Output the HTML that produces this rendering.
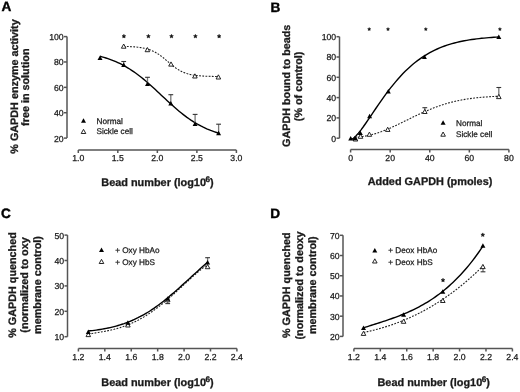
<!DOCTYPE html>
<html><head><meta charset="utf-8"><style>
html,body{margin:0;padding:0;background:#fff;width:520px;height:392px;overflow:hidden}
svg{display:block;will-change:transform}
text{font-family:"Liberation Sans", sans-serif;text-rendering:geometricPrecision}
</style></head><body>
<svg width="520" height="392" viewBox="0 0 520 392">
<text x="1.5" y="11.4" font-size="13.6" font-weight="bold" fill="#000" stroke="#000" stroke-width="0.4">A</text>
<text transform="translate(17.5,86.5) rotate(-90)" font-size="10.8" font-weight="bold" text-anchor="middle" fill="#1a1a1a" stroke="#1a1a1a" stroke-width="0.3">% GAPDH enzyme activity</text>
<text transform="translate(29.0,87.2) rotate(-90)" font-size="10.8" font-weight="bold" text-anchor="middle" fill="#1a1a1a" stroke="#1a1a1a" stroke-width="0.3">free in solution</text>
<line x1="67" y1="36.6" x2="67" y2="138.1" stroke="#555" stroke-width="1.5"/>
<line x1="64" y1="36.6" x2="67" y2="36.6" stroke="#555" stroke-width="1.5"/>
<text x="63.7" y="40.0" font-size="8.7" text-anchor="end" fill="#1a1a1a" stroke="#1a1a1a" stroke-width="0.25">100</text>
<line x1="64" y1="61.97" x2="67" y2="61.97" stroke="#555" stroke-width="1.5"/>
<text x="63.7" y="65.4" font-size="8.7" text-anchor="end" fill="#1a1a1a" stroke="#1a1a1a" stroke-width="0.25">80</text>
<line x1="64" y1="87.35" x2="67" y2="87.35" stroke="#555" stroke-width="1.5"/>
<text x="63.7" y="90.8" font-size="8.7" text-anchor="end" fill="#1a1a1a" stroke="#1a1a1a" stroke-width="0.25">60</text>
<line x1="64" y1="112.72" x2="67" y2="112.72" stroke="#555" stroke-width="1.5"/>
<text x="63.7" y="116.1" font-size="8.7" text-anchor="end" fill="#1a1a1a" stroke="#1a1a1a" stroke-width="0.25">40</text>
<line x1="64" y1="138.1" x2="67" y2="138.1" stroke="#555" stroke-width="1.5"/>
<text x="63.7" y="141.5" font-size="8.7" text-anchor="end" fill="#1a1a1a" stroke="#1a1a1a" stroke-width="0.25">20</text>
<line x1="78.3" y1="150" x2="236.4" y2="150" stroke="#555" stroke-width="1.5"/>
<line x1="78.3" y1="150" x2="78.3" y2="153" stroke="#555" stroke-width="1.5"/>
<text x="78.3" y="161.0" font-size="8.7" text-anchor="middle" fill="#1a1a1a" stroke="#1a1a1a" stroke-width="0.25">1.0</text>
<line x1="117.82" y1="150" x2="117.82" y2="153" stroke="#555" stroke-width="1.5"/>
<text x="117.8" y="161.0" font-size="8.7" text-anchor="middle" fill="#1a1a1a" stroke="#1a1a1a" stroke-width="0.25">1.5</text>
<line x1="157.35" y1="150" x2="157.35" y2="153" stroke="#555" stroke-width="1.5"/>
<text x="157.3" y="161.0" font-size="8.7" text-anchor="middle" fill="#1a1a1a" stroke="#1a1a1a" stroke-width="0.25">2.0</text>
<line x1="196.88" y1="150" x2="196.88" y2="153" stroke="#555" stroke-width="1.5"/>
<text x="196.9" y="161.0" font-size="8.7" text-anchor="middle" fill="#1a1a1a" stroke="#1a1a1a" stroke-width="0.25">2.5</text>
<line x1="236.4" y1="150" x2="236.4" y2="153" stroke="#555" stroke-width="1.5"/>
<text x="236.4" y="161.0" font-size="8.7" text-anchor="middle" fill="#1a1a1a" stroke="#1a1a1a" stroke-width="0.25">3.0</text>
<text x="101.3" y="186.3" font-size="10.9" font-weight="bold" text-anchor="start" fill="#1a1a1a" stroke="#1a1a1a" stroke-width="0.3">Bead number (log10<tspan font-size="8.2" dx="-0.5" dy="-4.0">6</tspan><tspan dy="4.0">)</tspan></text>
<path d="M100.00,56.28 L101.98,56.81 L103.95,57.37 L105.93,57.98 L107.91,58.63 L109.88,59.32 L111.86,60.05 L113.84,60.83 L115.81,61.67 L117.79,62.55 L119.77,63.49 L121.74,64.48 L123.72,65.53 L125.70,66.63 L127.67,67.79 L129.65,69.01 L131.63,70.29 L133.60,71.62 L135.58,73.01 L137.56,74.46 L139.53,75.96 L141.51,77.52 L143.49,79.12 L145.46,80.77 L147.44,82.47 L149.42,84.20 L151.39,85.97 L153.37,87.77 L155.35,89.59 L157.32,91.43 L159.30,93.28 L161.28,95.14 L163.25,97.00 L165.23,98.85 L167.21,100.70 L169.18,102.52 L171.16,104.32 L173.14,106.10 L175.11,107.84 L177.09,109.54 L179.07,111.20 L181.04,112.81 L183.02,114.37 L185.00,115.88 L186.97,117.34 L188.95,118.74 L190.93,120.09 L192.90,121.37 L194.88,122.60 L196.86,123.77 L198.83,124.88 L200.81,125.94 L202.79,126.94 L204.76,127.88 L206.74,128.78 L208.72,129.62 L210.69,130.41 L212.67,131.15 L214.65,131.85 L216.62,132.50 L218.60,133.12" fill="none" stroke="#000" stroke-width="1.4"/>
<line x1="123.70" y1="65.00" x2="123.70" y2="61.50" stroke="#777" stroke-width="1.3"/>
<line x1="121.30" y1="61.50" x2="126.10" y2="61.50" stroke="#333" stroke-width="1.1"/>
<line x1="147.50" y1="84.10" x2="147.50" y2="77.30" stroke="#777" stroke-width="1.3"/>
<line x1="145.10" y1="77.30" x2="149.90" y2="77.30" stroke="#333" stroke-width="1.1"/>
<line x1="170.80" y1="103.60" x2="170.80" y2="94.70" stroke="#777" stroke-width="1.3"/>
<line x1="168.40" y1="94.70" x2="173.20" y2="94.70" stroke="#333" stroke-width="1.1"/>
<line x1="195.10" y1="124.00" x2="195.10" y2="114.40" stroke="#777" stroke-width="1.3"/>
<line x1="192.70" y1="114.40" x2="197.50" y2="114.40" stroke="#333" stroke-width="1.1"/>
<line x1="218.60" y1="133.20" x2="218.60" y2="124.20" stroke="#777" stroke-width="1.3"/>
<line x1="216.20" y1="124.20" x2="221.00" y2="124.20" stroke="#333" stroke-width="1.1"/>
<polygon points="97.50,60.02 102.50,60.02 100.00,55.52" fill="#000"/>
<polygon points="121.20,67.03 126.20,67.03 123.70,62.52" fill="#000"/>
<polygon points="145.00,86.12 150.00,86.12 147.50,81.62" fill="#000"/>
<polygon points="168.30,105.62 173.30,105.62 170.80,101.12" fill="#000"/>
<polygon points="192.60,126.03 197.60,126.03 195.10,121.53" fill="#000"/>
<polygon points="216.10,135.22 221.10,135.22 218.60,130.72" fill="#000"/>
<path d="M123.70,46.41 L125.28,46.45 L126.86,46.50 L128.44,46.56 L130.01,46.62 L131.59,46.71 L133.17,46.80 L134.75,46.92 L136.33,47.06 L137.91,47.22 L139.48,47.41 L141.06,47.64 L142.64,47.90 L144.22,48.21 L145.80,48.58 L147.38,49.00 L148.95,49.49 L150.53,50.05 L152.11,50.69 L153.69,51.42 L155.27,52.24 L156.84,53.15 L158.42,54.16 L160.00,55.25 L161.58,56.43 L163.16,57.67 L164.74,58.97 L166.31,60.31 L167.89,61.67 L169.47,63.02 L171.05,64.34 L172.63,65.62 L174.21,66.84 L175.78,67.99 L177.36,69.05 L178.94,70.01 L180.52,70.89 L182.10,71.67 L183.68,72.37 L185.25,72.98 L186.83,73.51 L188.41,73.97 L189.99,74.37 L191.57,74.71 L193.15,75.00 L194.73,75.25 L196.30,75.46 L197.88,75.64 L199.46,75.80 L201.04,75.92 L202.62,76.03 L204.19,76.12 L205.77,76.20 L207.35,76.26 L208.93,76.32 L210.51,76.36 L212.09,76.40 L213.67,76.43 L215.24,76.46 L216.82,76.48 L218.40,76.50" fill="none" stroke="#222" stroke-width="1.1" stroke-dasharray="1.8,1.4"/>
<polygon points="121.40,48.21 126.00,48.21 123.70,44.02" fill="#fff" stroke="#1a1a1a" stroke-width="0.95" stroke-linejoin="round"/>
<polygon points="145.10,51.71 149.70,51.71 147.40,47.52" fill="#fff" stroke="#1a1a1a" stroke-width="0.95" stroke-linejoin="round"/>
<polygon points="168.70,66.11 173.30,66.11 171.00,61.92" fill="#fff" stroke="#1a1a1a" stroke-width="0.95" stroke-linejoin="round"/>
<polygon points="192.60,78.01 197.20,78.01 194.90,73.82" fill="#fff" stroke="#1a1a1a" stroke-width="0.95" stroke-linejoin="round"/>
<polygon points="216.10,79.01 220.70,79.01 218.40,74.82" fill="#fff" stroke="#1a1a1a" stroke-width="0.95" stroke-linejoin="round"/>
<polygon points="123.90,34.30 124.46,35.53 125.80,35.68 124.80,36.59 125.08,37.92 123.90,37.25 122.72,37.92 123.00,36.59 122.00,35.68 123.34,35.53" fill="#111" stroke="#111" stroke-width="0.5"/>
<polygon points="148.40,34.30 148.96,35.53 150.30,35.68 149.30,36.59 149.58,37.92 148.40,37.25 147.22,37.92 147.50,36.59 146.50,35.68 147.84,35.53" fill="#111" stroke="#111" stroke-width="0.5"/>
<polygon points="171.50,34.30 172.06,35.53 173.40,35.68 172.40,36.59 172.68,37.92 171.50,37.25 170.32,37.92 170.60,36.59 169.60,35.68 170.94,35.53" fill="#111" stroke="#111" stroke-width="0.5"/>
<polygon points="195.40,34.30 195.96,35.53 197.30,35.68 196.30,36.59 196.58,37.92 195.40,37.25 194.22,37.92 194.50,36.59 193.50,35.68 194.84,35.53" fill="#111" stroke="#111" stroke-width="0.5"/>
<polygon points="219.10,34.30 219.66,35.53 221.00,35.68 220.00,36.59 220.28,37.92 219.10,37.25 217.92,37.92 218.20,36.59 217.20,35.68 218.54,35.53" fill="#111" stroke="#111" stroke-width="0.5"/>
<polygon points="81.00,122.83 86.00,122.83 83.50,118.33" fill="#000"/>
<polygon points="81.20,133.51 85.80,133.51 83.50,129.32" fill="#fff" stroke="#1a1a1a" stroke-width="0.95" stroke-linejoin="round"/>
<text x="96.5" y="123.7" font-size="8.2" fill="#1a1a1a" stroke="#1a1a1a" stroke-width="0.25">Normal</text>
<text x="96.5" y="134.4" font-size="8.2" fill="#1a1a1a" stroke="#1a1a1a" stroke-width="0.25">Sickle cell</text>
<text x="270.5" y="11.5" font-size="13.6" font-weight="bold" fill="#000" stroke="#000" stroke-width="0.4">B</text>
<text transform="translate(289.9,85.8) rotate(-90)" font-size="10.8" font-weight="bold" text-anchor="middle" fill="#1a1a1a" stroke="#1a1a1a" stroke-width="0.3">GAPDH bound to beads</text>
<text transform="translate(302.3,86.4) rotate(-90)" font-size="10.8" font-weight="bold" text-anchor="middle" fill="#1a1a1a" stroke="#1a1a1a" stroke-width="0.3">(% of control)</text>
<line x1="339.5" y1="36.7" x2="339.5" y2="138.2" stroke="#555" stroke-width="1.5"/>
<line x1="336.5" y1="36.7" x2="339.5" y2="36.7" stroke="#555" stroke-width="1.5"/>
<text x="336.2" y="40.1" font-size="8.7" text-anchor="end" fill="#1a1a1a" stroke="#1a1a1a" stroke-width="0.25">100</text>
<line x1="336.5" y1="57.0" x2="339.5" y2="57.0" stroke="#555" stroke-width="1.5"/>
<text x="336.2" y="60.4" font-size="8.7" text-anchor="end" fill="#1a1a1a" stroke="#1a1a1a" stroke-width="0.25">80</text>
<line x1="336.5" y1="77.3" x2="339.5" y2="77.3" stroke="#555" stroke-width="1.5"/>
<text x="336.2" y="80.7" font-size="8.7" text-anchor="end" fill="#1a1a1a" stroke="#1a1a1a" stroke-width="0.25">60</text>
<line x1="336.5" y1="97.6" x2="339.5" y2="97.6" stroke="#555" stroke-width="1.5"/>
<text x="336.2" y="101.0" font-size="8.7" text-anchor="end" fill="#1a1a1a" stroke="#1a1a1a" stroke-width="0.25">40</text>
<line x1="336.5" y1="117.9" x2="339.5" y2="117.9" stroke="#555" stroke-width="1.5"/>
<text x="336.2" y="121.3" font-size="8.7" text-anchor="end" fill="#1a1a1a" stroke="#1a1a1a" stroke-width="0.25">20</text>
<line x1="336.5" y1="138.2" x2="339.5" y2="138.2" stroke="#555" stroke-width="1.5"/>
<text x="336.2" y="141.6" font-size="8.7" text-anchor="end" fill="#1a1a1a" stroke="#1a1a1a" stroke-width="0.25">0</text>
<line x1="350.6" y1="149.5" x2="508.9" y2="149.5" stroke="#555" stroke-width="1.5"/>
<line x1="350.6" y1="149.5" x2="350.6" y2="152.5" stroke="#555" stroke-width="1.5"/>
<text x="350.6" y="160.9" font-size="8.7" text-anchor="middle" fill="#1a1a1a" stroke="#1a1a1a" stroke-width="0.25">0</text>
<line x1="390.18" y1="149.5" x2="390.18" y2="152.5" stroke="#555" stroke-width="1.5"/>
<text x="390.2" y="160.9" font-size="8.7" text-anchor="middle" fill="#1a1a1a" stroke="#1a1a1a" stroke-width="0.25">20</text>
<line x1="429.75" y1="149.5" x2="429.75" y2="152.5" stroke="#555" stroke-width="1.5"/>
<text x="429.8" y="160.9" font-size="8.7" text-anchor="middle" fill="#1a1a1a" stroke="#1a1a1a" stroke-width="0.25">40</text>
<line x1="469.33" y1="149.5" x2="469.33" y2="152.5" stroke="#555" stroke-width="1.5"/>
<text x="469.3" y="160.9" font-size="8.7" text-anchor="middle" fill="#1a1a1a" stroke="#1a1a1a" stroke-width="0.25">60</text>
<line x1="508.9" y1="149.5" x2="508.9" y2="152.5" stroke="#555" stroke-width="1.5"/>
<text x="508.9" y="160.9" font-size="8.7" text-anchor="middle" fill="#1a1a1a" stroke="#1a1a1a" stroke-width="0.25">80</text>
<text x="430" y="185.3" font-size="10.9" font-weight="bold" text-anchor="middle" fill="#1a1a1a" stroke="#1a1a1a" stroke-width="0.3">Added GAPDH (pmoles)</text>
<path d="M351.00,139.71 L353.46,138.28 L355.93,135.97 L358.39,133.17 L360.85,130.07 L363.32,126.74 L365.78,123.26 L368.24,119.69 L370.71,116.06 L373.17,112.40 L375.63,108.76 L378.10,105.15 L380.56,101.59 L383.02,98.10 L385.49,94.69 L387.95,91.38 L390.41,88.17 L392.88,85.07 L395.34,82.08 L397.80,79.22 L400.27,76.47 L402.73,73.85 L405.19,71.34 L407.66,68.96 L410.12,66.70 L412.58,64.56 L415.05,62.54 L417.51,60.63 L419.97,58.83 L422.44,57.14 L424.90,55.55 L427.36,54.05 L429.83,52.66 L432.29,51.35 L434.75,50.13 L437.22,48.99 L439.68,47.93 L442.14,46.95 L444.61,46.03 L447.07,45.18 L449.53,44.40 L452.00,43.67 L454.46,42.99 L456.92,42.37 L459.39,41.80 L461.85,41.27 L464.31,40.78 L466.78,40.33 L469.24,39.92 L471.70,39.54 L474.17,39.19 L476.63,38.88 L479.09,38.59 L481.56,38.32 L484.02,38.08 L486.48,37.86 L488.95,37.65 L491.41,37.47 L493.87,37.30 L496.34,37.15 L498.80,37.01" fill="none" stroke="#000" stroke-width="1.4"/>
<path d="M355.50,137.15 L357.88,137.00 L360.26,136.77 L362.63,136.47 L365.01,136.10 L367.39,135.65 L369.77,135.13 L372.15,134.54 L374.53,133.88 L376.90,133.16 L379.28,132.37 L381.66,131.52 L384.04,130.61 L386.42,129.66 L388.80,128.66 L391.18,127.62 L393.55,126.54 L395.93,125.44 L398.31,124.31 L400.69,123.16 L403.07,121.99 L405.44,120.82 L407.82,119.65 L410.20,118.47 L412.58,117.31 L414.96,116.15 L417.34,115.02 L419.71,113.90 L422.09,112.81 L424.47,111.74 L426.85,110.70 L429.23,109.70 L431.61,108.73 L433.99,107.80 L436.36,106.91 L438.74,106.06 L441.12,105.25 L443.50,104.48 L445.88,103.76 L448.25,103.07 L450.63,102.42 L453.01,101.82 L455.39,101.26 L457.77,100.73 L460.15,100.24 L462.52,99.79 L464.90,99.38 L467.28,98.99 L469.66,98.64 L472.04,98.32 L474.42,98.03 L476.80,97.76 L479.17,97.52 L481.55,97.30 L483.93,97.11 L486.31,96.93 L488.69,96.77 L491.06,96.63 L493.44,96.50 L495.82,96.39 L498.20,96.29" fill="none" stroke="#222" stroke-width="1.1" stroke-dasharray="1.8,1.4"/>
<line x1="424.80" y1="111.40" x2="424.80" y2="107.70" stroke="#777" stroke-width="1.3"/>
<line x1="422.40" y1="107.70" x2="427.20" y2="107.70" stroke="#333" stroke-width="1.1"/>
<line x1="498.80" y1="96.60" x2="498.80" y2="87.50" stroke="#777" stroke-width="1.3"/>
<line x1="496.40" y1="87.50" x2="501.20" y2="87.50" stroke="#333" stroke-width="1.1"/>
<polygon points="353.20,141.01 357.80,141.01 355.50,136.82" fill="#fff" stroke="#1a1a1a" stroke-width="0.95" stroke-linejoin="round"/>
<polygon points="358.20,138.31 362.80,138.31 360.50,134.12" fill="#fff" stroke="#1a1a1a" stroke-width="0.95" stroke-linejoin="round"/>
<polygon points="367.10,136.31 371.70,136.31 369.40,132.12" fill="#fff" stroke="#1a1a1a" stroke-width="0.95" stroke-linejoin="round"/>
<polygon points="385.40,131.41 390.00,131.41 387.70,127.22" fill="#fff" stroke="#1a1a1a" stroke-width="0.95" stroke-linejoin="round"/>
<polygon points="422.50,113.51 427.10,113.51 424.80,109.32" fill="#fff" stroke="#1a1a1a" stroke-width="0.95" stroke-linejoin="round"/>
<polygon points="496.50,98.61 501.10,98.61 498.80,94.42" fill="#fff" stroke="#1a1a1a" stroke-width="0.95" stroke-linejoin="round"/>
<polygon points="348.20,140.53 353.20,140.53 350.70,136.03" fill="#000"/>
<polygon points="352.50,140.22 357.50,140.22 355.00,135.72" fill="#000"/>
<polygon points="357.80,135.03 362.80,135.03 360.30,130.53" fill="#000"/>
<polygon points="367.10,118.23 372.10,118.23 369.60,113.73" fill="#000"/>
<polygon points="385.80,93.62 390.80,93.62 388.30,89.12" fill="#000"/>
<polygon points="421.90,58.92 426.90,58.92 424.40,54.42" fill="#000"/>
<polygon points="496.30,39.02 501.30,39.02 498.80,34.52" fill="#000"/>
<polygon points="369.20,27.60 369.67,28.55 370.72,28.71 369.96,29.45 370.14,30.49 369.20,30.00 368.26,30.49 368.44,29.45 367.68,28.71 368.73,28.55" fill="#111" stroke="#111" stroke-width="0.5"/>
<polygon points="388.00,27.60 388.47,28.55 389.52,28.71 388.76,29.45 388.94,30.49 388.00,30.00 387.06,30.49 387.24,29.45 386.48,28.71 387.53,28.55" fill="#111" stroke="#111" stroke-width="0.5"/>
<polygon points="425.80,27.60 426.27,28.55 427.32,28.71 426.56,29.45 426.74,30.49 425.80,30.00 424.86,30.49 425.04,29.45 424.28,28.71 425.33,28.55" fill="#111" stroke="#111" stroke-width="0.5"/>
<polygon points="499.90,27.60 500.37,28.55 501.42,28.71 500.66,29.45 500.84,30.49 499.90,30.00 498.96,30.49 499.14,29.45 498.38,28.71 499.43,28.55" fill="#111" stroke="#111" stroke-width="0.5"/>
<polygon points="440.60,124.73 445.60,124.73 443.10,120.23" fill="#000"/>
<polygon points="440.80,136.21 445.40,136.21 443.10,132.02" fill="#fff" stroke="#1a1a1a" stroke-width="0.95" stroke-linejoin="round"/>
<text x="456" y="125.6" font-size="8.2" fill="#1a1a1a" stroke="#1a1a1a" stroke-width="0.25">Normal</text>
<text x="456" y="137.1" font-size="8.2" fill="#1a1a1a" stroke="#1a1a1a" stroke-width="0.25">Sickle cell</text>
<text x="1.0" y="217.6" font-size="13.6" font-weight="bold" fill="#000" stroke="#000" stroke-width="0.4">C</text>
<text transform="translate(15.8,285.0) rotate(-90)" font-size="10.8" font-weight="bold" text-anchor="middle" fill="#1a1a1a" stroke="#1a1a1a" stroke-width="0.3">% GAPDH quenched</text>
<text transform="translate(27.7,285.0) rotate(-90)" font-size="10.8" font-weight="bold" text-anchor="middle" fill="#1a1a1a" stroke="#1a1a1a" stroke-width="0.3">(normalized to oxy</text>
<text transform="translate(40.7,285.0) rotate(-90)" font-size="10.8" font-weight="bold" text-anchor="middle" fill="#1a1a1a" stroke="#1a1a1a" stroke-width="0.3">membrane control)</text>
<line x1="67.5" y1="235.1" x2="67.5" y2="336.7" stroke="#555" stroke-width="1.5"/>
<line x1="64.5" y1="235.1" x2="67.5" y2="235.1" stroke="#555" stroke-width="1.5"/>
<text x="64.2" y="238.5" font-size="8.7" text-anchor="end" fill="#1a1a1a" stroke="#1a1a1a" stroke-width="0.25">50</text>
<line x1="64.5" y1="260.5" x2="67.5" y2="260.5" stroke="#555" stroke-width="1.5"/>
<text x="64.2" y="263.9" font-size="8.7" text-anchor="end" fill="#1a1a1a" stroke="#1a1a1a" stroke-width="0.25">40</text>
<line x1="64.5" y1="285.9" x2="67.5" y2="285.9" stroke="#555" stroke-width="1.5"/>
<text x="64.2" y="289.3" font-size="8.7" text-anchor="end" fill="#1a1a1a" stroke="#1a1a1a" stroke-width="0.25">30</text>
<line x1="64.5" y1="311.3" x2="67.5" y2="311.3" stroke="#555" stroke-width="1.5"/>
<text x="64.2" y="314.7" font-size="8.7" text-anchor="end" fill="#1a1a1a" stroke="#1a1a1a" stroke-width="0.25">20</text>
<line x1="64.5" y1="336.7" x2="67.5" y2="336.7" stroke="#555" stroke-width="1.5"/>
<text x="64.2" y="340.1" font-size="8.7" text-anchor="end" fill="#1a1a1a" stroke="#1a1a1a" stroke-width="0.25">10</text>
<line x1="78.4" y1="348.5" x2="236.92" y2="348.5" stroke="#555" stroke-width="1.5"/>
<line x1="78.4" y1="348.5" x2="78.4" y2="351.5" stroke="#555" stroke-width="1.5"/>
<text x="78.4" y="359.9" font-size="8.7" text-anchor="middle" fill="#1a1a1a" stroke="#1a1a1a" stroke-width="0.25">1.2</text>
<line x1="104.82" y1="348.5" x2="104.82" y2="351.5" stroke="#555" stroke-width="1.5"/>
<text x="104.8" y="359.9" font-size="8.7" text-anchor="middle" fill="#1a1a1a" stroke="#1a1a1a" stroke-width="0.25">1.4</text>
<line x1="131.24" y1="348.5" x2="131.24" y2="351.5" stroke="#555" stroke-width="1.5"/>
<text x="131.2" y="359.9" font-size="8.7" text-anchor="middle" fill="#1a1a1a" stroke="#1a1a1a" stroke-width="0.25">1.6</text>
<line x1="157.66" y1="348.5" x2="157.66" y2="351.5" stroke="#555" stroke-width="1.5"/>
<text x="157.7" y="359.9" font-size="8.7" text-anchor="middle" fill="#1a1a1a" stroke="#1a1a1a" stroke-width="0.25">1.8</text>
<line x1="184.08" y1="348.5" x2="184.08" y2="351.5" stroke="#555" stroke-width="1.5"/>
<text x="184.1" y="359.9" font-size="8.7" text-anchor="middle" fill="#1a1a1a" stroke="#1a1a1a" stroke-width="0.25">2.0</text>
<line x1="210.5" y1="348.5" x2="210.5" y2="351.5" stroke="#555" stroke-width="1.5"/>
<text x="210.5" y="359.9" font-size="8.7" text-anchor="middle" fill="#1a1a1a" stroke="#1a1a1a" stroke-width="0.25">2.2</text>
<line x1="236.92" y1="348.5" x2="236.92" y2="351.5" stroke="#555" stroke-width="1.5"/>
<text x="236.9" y="359.9" font-size="8.7" text-anchor="middle" fill="#1a1a1a" stroke="#1a1a1a" stroke-width="0.25">2.4</text>
<text x="101.3" y="385.8" font-size="10.9" font-weight="bold" text-anchor="start" fill="#1a1a1a" stroke="#1a1a1a" stroke-width="0.3">Bead number (log10<tspan font-size="8.2" dx="-0.5" dy="-4.0">6</tspan><tspan dy="4.0">)</tspan></text>
<path d="M88.30,334.15 L90.29,333.81 L92.27,333.48 L94.26,333.15 L96.25,332.82 L98.23,332.49 L100.22,332.15 L102.21,331.81 L104.19,331.44 L106.18,331.06 L108.17,330.66 L110.15,330.24 L112.14,329.78 L114.13,329.30 L116.11,328.77 L118.10,328.21 L120.09,327.61 L122.07,326.96 L124.06,326.27 L126.05,325.54 L128.03,324.76 L130.02,323.94 L132.01,323.08 L133.99,322.16 L135.98,321.20 L137.97,320.20 L139.95,319.14 L141.94,318.03 L143.93,316.88 L145.91,315.67 L147.90,314.41 L149.89,313.10 L151.87,311.74 L153.86,310.33 L155.85,308.87 L157.83,307.36 L159.82,305.81 L161.81,304.23 L163.79,302.60 L165.78,300.94 L167.77,299.26 L169.75,297.54 L171.74,295.79 L173.73,294.03 L175.71,292.24 L177.70,290.44 L179.69,288.62 L181.67,286.79 L183.66,284.95 L185.65,283.11 L187.63,281.28 L189.62,279.46 L191.61,277.66 L193.59,275.88 L195.58,274.13 L197.57,272.41 L199.55,270.74 L201.54,269.12 L203.53,267.55 L205.51,266.04 L207.50,264.59" fill="none" stroke="#222" stroke-width="1.1" stroke-dasharray="1.8,1.4"/>
<path d="M88.30,331.00 L90.29,330.80 L92.27,330.58 L94.26,330.35 L96.25,330.09 L98.23,329.80 L100.22,329.50 L102.21,329.17 L104.19,328.81 L106.18,328.43 L108.17,328.01 L110.15,327.57 L112.14,327.10 L114.13,326.60 L116.11,326.06 L118.10,325.49 L120.09,324.89 L122.07,324.25 L124.06,323.58 L126.05,322.86 L128.03,322.11 L130.02,321.32 L132.01,320.49 L133.99,319.61 L135.98,318.70 L137.97,317.74 L139.95,316.73 L141.94,315.68 L143.93,314.58 L145.91,313.43 L147.90,312.23 L149.89,310.98 L151.87,309.68 L153.86,308.33 L155.85,306.94 L157.83,305.50 L159.82,304.01 L161.81,302.49 L163.79,300.93 L165.78,299.34 L167.77,297.72 L169.75,296.06 L171.74,294.38 L173.73,292.67 L175.71,290.94 L177.70,289.19 L179.69,287.43 L181.67,285.64 L183.66,283.85 L185.65,282.05 L187.63,280.23 L189.62,278.42 L191.61,276.60 L193.59,274.78 L195.58,272.96 L197.57,271.15 L199.55,269.34 L201.54,267.54 L203.53,265.76 L205.51,263.99 L207.50,262.23" fill="none" stroke="#000" stroke-width="1.4"/>
<line x1="207.60" y1="262.60" x2="207.60" y2="257.70" stroke="#777" stroke-width="1.3"/>
<line x1="205.20" y1="257.70" x2="210.00" y2="257.70" stroke="#333" stroke-width="1.1"/>
<line x1="167.70" y1="300.60" x2="167.70" y2="303.60" stroke="#777" stroke-width="1.3"/>
<line x1="165.30" y1="303.60" x2="170.10" y2="303.60" stroke="#333" stroke-width="1.1"/>
<polygon points="86.00,336.61 90.60,336.61 88.30,332.42" fill="#fff" stroke="#1a1a1a" stroke-width="0.95" stroke-linejoin="round"/>
<polygon points="125.60,327.01 130.20,327.01 127.90,322.82" fill="#fff" stroke="#1a1a1a" stroke-width="0.95" stroke-linejoin="round"/>
<polygon points="165.40,301.81 170.00,301.81 167.70,297.62" fill="#fff" stroke="#1a1a1a" stroke-width="0.95" stroke-linejoin="round"/>
<polygon points="205.30,268.71 209.90,268.71 207.60,264.52" fill="#fff" stroke="#1a1a1a" stroke-width="0.95" stroke-linejoin="round"/>
<polygon points="85.80,333.92 90.80,333.92 88.30,329.42" fill="#000"/>
<polygon points="125.40,324.72 130.40,324.72 127.90,320.22" fill="#000"/>
<polygon points="165.20,300.72 170.20,300.72 167.70,296.22" fill="#000"/>
<polygon points="205.10,264.62 210.10,264.62 207.60,260.12" fill="#000"/>
<polygon points="99.00,252.03 104.00,252.03 101.50,247.53" fill="#000"/>
<polygon points="99.20,263.51 103.80,263.51 101.50,259.32" fill="#fff" stroke="#1a1a1a" stroke-width="0.95" stroke-linejoin="round"/>
<text x="115.2" y="252.9" font-size="8.2" fill="#1a1a1a" stroke="#1a1a1a" stroke-width="0.25">+ Oxy HbAo</text>
<text x="115.2" y="265.1" font-size="8.2" fill="#1a1a1a" stroke="#1a1a1a" stroke-width="0.25">+ Oxy HbS</text>
<text x="270.2" y="217.6" font-size="13.6" font-weight="bold" fill="#000" stroke="#000" stroke-width="0.4">D</text>
<text transform="translate(290.4,285.2) rotate(-90)" font-size="10.8" font-weight="bold" text-anchor="middle" fill="#1a1a1a" stroke="#1a1a1a" stroke-width="0.3">% GAPDH quenched</text>
<text transform="translate(302.7,285.5) rotate(-90)" font-size="10.8" font-weight="bold" text-anchor="middle" fill="#1a1a1a" stroke="#1a1a1a" stroke-width="0.3">(normalized to deoxy</text>
<text transform="translate(315.7,285.2) rotate(-90)" font-size="10.8" font-weight="bold" text-anchor="middle" fill="#1a1a1a" stroke="#1a1a1a" stroke-width="0.3">membrane control)</text>
<line x1="343" y1="235.3" x2="343" y2="336.4" stroke="#555" stroke-width="1.5"/>
<line x1="340" y1="235.3" x2="343" y2="235.3" stroke="#555" stroke-width="1.5"/>
<text x="339.7" y="238.7" font-size="8.7" text-anchor="end" fill="#1a1a1a" stroke="#1a1a1a" stroke-width="0.25">70</text>
<line x1="340" y1="255.52" x2="343" y2="255.52" stroke="#555" stroke-width="1.5"/>
<text x="339.7" y="258.9" font-size="8.7" text-anchor="end" fill="#1a1a1a" stroke="#1a1a1a" stroke-width="0.25">60</text>
<line x1="340" y1="275.74" x2="343" y2="275.74" stroke="#555" stroke-width="1.5"/>
<text x="339.7" y="279.1" font-size="8.7" text-anchor="end" fill="#1a1a1a" stroke="#1a1a1a" stroke-width="0.25">50</text>
<line x1="340" y1="295.96" x2="343" y2="295.96" stroke="#555" stroke-width="1.5"/>
<text x="339.7" y="299.4" font-size="8.7" text-anchor="end" fill="#1a1a1a" stroke="#1a1a1a" stroke-width="0.25">40</text>
<line x1="340" y1="316.18" x2="343" y2="316.18" stroke="#555" stroke-width="1.5"/>
<text x="339.7" y="319.6" font-size="8.7" text-anchor="end" fill="#1a1a1a" stroke="#1a1a1a" stroke-width="0.25">30</text>
<line x1="340" y1="336.4" x2="343" y2="336.4" stroke="#555" stroke-width="1.5"/>
<text x="339.7" y="339.8" font-size="8.7" text-anchor="end" fill="#1a1a1a" stroke="#1a1a1a" stroke-width="0.25">20</text>
<line x1="353.9" y1="348.5" x2="512.4" y2="348.5" stroke="#555" stroke-width="1.5"/>
<line x1="353.9" y1="348.5" x2="353.9" y2="351.5" stroke="#555" stroke-width="1.5"/>
<text x="353.9" y="359.9" font-size="8.7" text-anchor="middle" fill="#1a1a1a" stroke="#1a1a1a" stroke-width="0.25">1.2</text>
<line x1="380.32" y1="348.5" x2="380.32" y2="351.5" stroke="#555" stroke-width="1.5"/>
<text x="380.3" y="359.9" font-size="8.7" text-anchor="middle" fill="#1a1a1a" stroke="#1a1a1a" stroke-width="0.25">1.4</text>
<line x1="406.73" y1="348.5" x2="406.73" y2="351.5" stroke="#555" stroke-width="1.5"/>
<text x="406.7" y="359.9" font-size="8.7" text-anchor="middle" fill="#1a1a1a" stroke="#1a1a1a" stroke-width="0.25">1.6</text>
<line x1="433.15" y1="348.5" x2="433.15" y2="351.5" stroke="#555" stroke-width="1.5"/>
<text x="433.1" y="359.9" font-size="8.7" text-anchor="middle" fill="#1a1a1a" stroke="#1a1a1a" stroke-width="0.25">1.8</text>
<line x1="459.56" y1="348.5" x2="459.56" y2="351.5" stroke="#555" stroke-width="1.5"/>
<text x="459.6" y="359.9" font-size="8.7" text-anchor="middle" fill="#1a1a1a" stroke="#1a1a1a" stroke-width="0.25">2.0</text>
<line x1="485.98" y1="348.5" x2="485.98" y2="351.5" stroke="#555" stroke-width="1.5"/>
<text x="486.0" y="359.9" font-size="8.7" text-anchor="middle" fill="#1a1a1a" stroke="#1a1a1a" stroke-width="0.25">2.2</text>
<line x1="512.4" y1="348.5" x2="512.4" y2="351.5" stroke="#555" stroke-width="1.5"/>
<text x="512.4" y="359.9" font-size="8.7" text-anchor="middle" fill="#1a1a1a" stroke="#1a1a1a" stroke-width="0.25">2.4</text>
<text x="377.5" y="385.8" font-size="10.9" font-weight="bold" text-anchor="start" fill="#1a1a1a" stroke="#1a1a1a" stroke-width="0.3">Bead number (log10<tspan font-size="8.2" dx="-0.5" dy="-4.0">6</tspan><tspan dy="4.0">)</tspan></text>
<path d="M363.50,332.47 L365.49,332.06 L367.47,331.63 L369.46,331.18 L371.45,330.71 L373.43,330.22 L375.42,329.71 L377.41,329.19 L379.39,328.64 L381.38,328.07 L383.37,327.49 L385.35,326.88 L387.34,326.26 L389.33,325.61 L391.31,324.94 L393.30,324.25 L395.29,323.54 L397.27,322.81 L399.26,322.05 L401.25,321.27 L403.23,320.47 L405.22,319.64 L407.21,318.80 L409.19,317.92 L411.18,317.03 L413.17,316.11 L415.15,315.16 L417.14,314.19 L419.13,313.20 L421.11,312.17 L423.10,311.13 L425.09,310.05 L427.07,308.96 L429.06,307.83 L431.05,306.68 L433.03,305.50 L435.02,304.29 L437.01,303.05 L438.99,301.79 L440.98,300.50 L442.97,299.18 L444.95,297.83 L446.94,296.45 L448.93,295.04 L450.91,293.60 L452.90,292.13 L454.89,290.64 L456.87,289.11 L458.86,287.55 L460.85,285.96 L462.83,284.33 L464.82,282.68 L466.81,280.99 L468.79,279.27 L470.78,277.52 L472.77,275.74 L474.75,273.92 L476.74,272.07 L478.73,270.18 L480.71,268.26 L482.70,266.31" fill="none" stroke="#222" stroke-width="1.1" stroke-dasharray="1.8,1.4"/>
<path d="M363.50,327.83 L365.49,327.19 L367.47,326.55 L369.46,325.92 L371.45,325.28 L373.43,324.65 L375.42,324.02 L377.41,323.38 L379.39,322.74 L381.38,322.10 L383.37,321.45 L385.35,320.79 L387.34,320.12 L389.33,319.44 L391.31,318.74 L393.30,318.03 L395.29,317.31 L397.27,316.56 L399.26,315.80 L401.25,315.02 L403.23,314.21 L405.22,313.39 L407.21,312.53 L409.19,311.65 L411.18,310.74 L413.17,309.81 L415.15,308.84 L417.14,307.84 L419.13,306.80 L421.11,305.73 L423.10,304.62 L425.09,303.47 L427.07,302.28 L429.06,301.05 L431.05,299.78 L433.03,298.46 L435.02,297.09 L437.01,295.68 L438.99,294.22 L440.98,292.71 L442.97,291.14 L444.95,289.52 L446.94,287.85 L448.93,286.11 L450.91,284.32 L452.90,282.47 L454.89,280.56 L456.87,278.59 L458.86,276.55 L460.85,274.44 L462.83,272.27 L464.82,270.02 L466.81,267.71 L468.79,265.33 L470.78,262.87 L472.77,260.33 L474.75,257.72 L476.74,255.03 L478.73,252.26 L480.71,249.41 L482.70,246.48" fill="none" stroke="#000" stroke-width="1.4"/>
<line x1="483.00" y1="266.60" x2="483.00" y2="271.80" stroke="#777" stroke-width="1.3"/>
<line x1="480.60" y1="271.80" x2="485.40" y2="271.80" stroke="#333" stroke-width="1.1"/>
<polygon points="361.20,335.41 365.80,335.41 363.50,331.22" fill="#fff" stroke="#1a1a1a" stroke-width="0.95" stroke-linejoin="round"/>
<polygon points="401.30,323.31 405.90,323.31 403.60,319.12" fill="#fff" stroke="#1a1a1a" stroke-width="0.95" stroke-linejoin="round"/>
<polygon points="440.50,302.51 445.10,302.51 442.80,298.32" fill="#fff" stroke="#1a1a1a" stroke-width="0.95" stroke-linejoin="round"/>
<polygon points="480.60,268.61 485.20,268.61 482.90,264.42" fill="#fff" stroke="#1a1a1a" stroke-width="0.95" stroke-linejoin="round"/>
<polygon points="361.00,330.02 366.00,330.02 363.50,325.52" fill="#000"/>
<polygon points="401.10,316.82 406.10,316.82 403.60,312.32" fill="#000"/>
<polygon points="440.30,293.82 445.30,293.82 442.80,289.32" fill="#000"/>
<polygon points="480.40,247.83 485.40,247.83 482.90,243.33" fill="#000"/>
<polygon points="443.00,278.20 443.56,279.43 444.90,279.58 443.90,280.49 444.18,281.82 443.00,281.15 441.82,281.82 442.10,280.49 441.10,279.58 442.44,279.43" fill="#111" stroke="#111" stroke-width="0.5"/>
<polygon points="482.80,232.90 483.36,234.13 484.70,234.28 483.70,235.19 483.98,236.52 482.80,235.85 481.62,236.52 481.90,235.19 480.90,234.28 482.24,234.13" fill="#111" stroke="#111" stroke-width="0.5"/>
<polygon points="372.30,252.43 377.30,252.43 374.80,247.93" fill="#000"/>
<polygon points="372.50,263.01 377.10,263.01 374.80,258.82" fill="#fff" stroke="#1a1a1a" stroke-width="0.95" stroke-linejoin="round"/>
<text x="388.3" y="253.4" font-size="8.2" fill="#1a1a1a" stroke="#1a1a1a" stroke-width="0.25">+ Deox HbAo</text>
<text x="388.3" y="264.9" font-size="8.2" fill="#1a1a1a" stroke="#1a1a1a" stroke-width="0.25">+ Deox HbS</text>
</svg>
</body></html>
